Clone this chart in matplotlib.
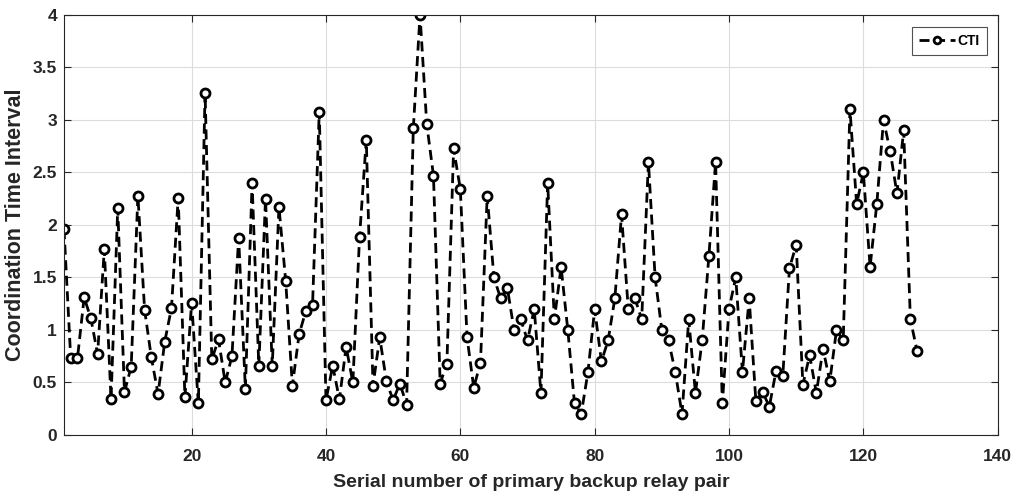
import matplotlib.pyplot as plt
import numpy as np

plt.rcParams['font.family'] = ['Liberation Sans', 'DejaVu Sans']
plt.rcParams['font.weight'] = 'bold'

# CTI values per relay pair
cti = [1.96, 0.73, 0.73, 1.31, 1.11, 0.77, 1.77, 0.34, 2.16, 0.41,
       0.65, 2.28, 1.19, 0.74, 0.39, 0.89, 1.21, 2.26, 0.36, 1.26,
       0.30, 3.26, 0.72, 0.91, 0.50, 0.75, 1.88, 0.44, 2.40, 0.66,
       2.25, 0.66, 2.17, 1.47, 0.47, 0.96, 1.18, 1.24, 3.08, 0.33,
       0.66, 0.34, 0.84, 0.50, 1.89, 2.81, 0.47, 0.93, 0.51, 0.33,
       0.49, 0.29, 2.92, 4.00, 2.96, 2.47, 0.49, 0.68, 2.73, 2.34,
       0.93, 0.45, 0.69, 2.28, 1.50, 1.30, 1.40, 1.00, 1.10, 0.90,
       1.20, 0.40, 2.40, 1.10, 1.60, 1.00, 0.30, 0.20, 0.60, 1.20,
       0.70, 0.90, 1.30, 2.10, 1.20, 1.30, 1.10, 2.60, 1.50, 1.00,
       0.90, 0.60, 0.20, 1.10, 0.40, 0.90, 1.70, 2.60, 0.30, 1.20,
       1.50, 0.60, 1.30, 0.32, 0.41, 0.27, 0.61, 0.56, 1.59, 1.81,
       0.48, 0.76, 0.40, 0.82, 0.51, 1.00, 0.90, 3.10, 2.20, 2.50,
       1.60, 2.20, 3.00, 2.70, 2.30, 2.90, 1.10, 0.80]
pair = np.arange(1, len(cti) + 1)

txt = '#262626'

fig = plt.figure(figsize=(10.16, 4.98), dpi=100)
ax = fig.add_axes([0.063, 0.1265, 0.919, 0.8435])

ax.plot(pair, cti, linestyle='--', color='black', linewidth=2.0,
        dashes=(3.6, 2.0), marker='o', markersize=6.5, markerfacecolor='white',
        markeredgecolor='black', markeredgewidth=2.0, label='CTI')

ax.set_xlim(1, 140)
ax.set_ylim(0, 4)
ax.set_xticks(np.arange(20, 141, 20))
ax.set_yticks(np.arange(0, 4.01, 0.5))
ax.set_yticklabels(['0', '0.5', '1', '1.5', '2', '2.5', '3', '3.5', '4'])

ax.grid(True, color='#dcdcdc', linewidth=0.8)
ax.set_axisbelow(True)
ax.tick_params(direction='in', top=True, right=True, length=5,
               labelsize=12.5, colors=txt, width=0.8)
ax.tick_params(axis='x', pad=10)
ax.tick_params(axis='y', pad=5)
for lab in ax.get_xticklabels() + ax.get_yticklabels():
    lab.set_fontweight('bold')
for s in ax.spines.values():
    s.set_color(txt)
    s.set_linewidth(0.8)

ax.set_xlabel('Serial number of primary backup relay pair', fontsize=14,
              fontweight='bold', color=txt, labelpad=7)
ax.set_ylabel('Coordination Time Interval', fontsize=15.5,
              fontweight='bold', color=txt, labelpad=5)

leg = ax.legend(loc='upper right', bbox_to_anchor=(0.988, 0.971),
                fontsize=10, frameon=True, fancybox=False, handlelength=2.6,
                handletextpad=0.2, borderpad=0.5, borderaxespad=0,
                markerscale=0.75)
leg.get_frame().set_edgecolor('#262626')
leg.get_frame().set_linewidth(0.8)
for t in leg.get_texts():
    t.set_fontweight('bold')

fig.savefig('out.png', dpi=100)
